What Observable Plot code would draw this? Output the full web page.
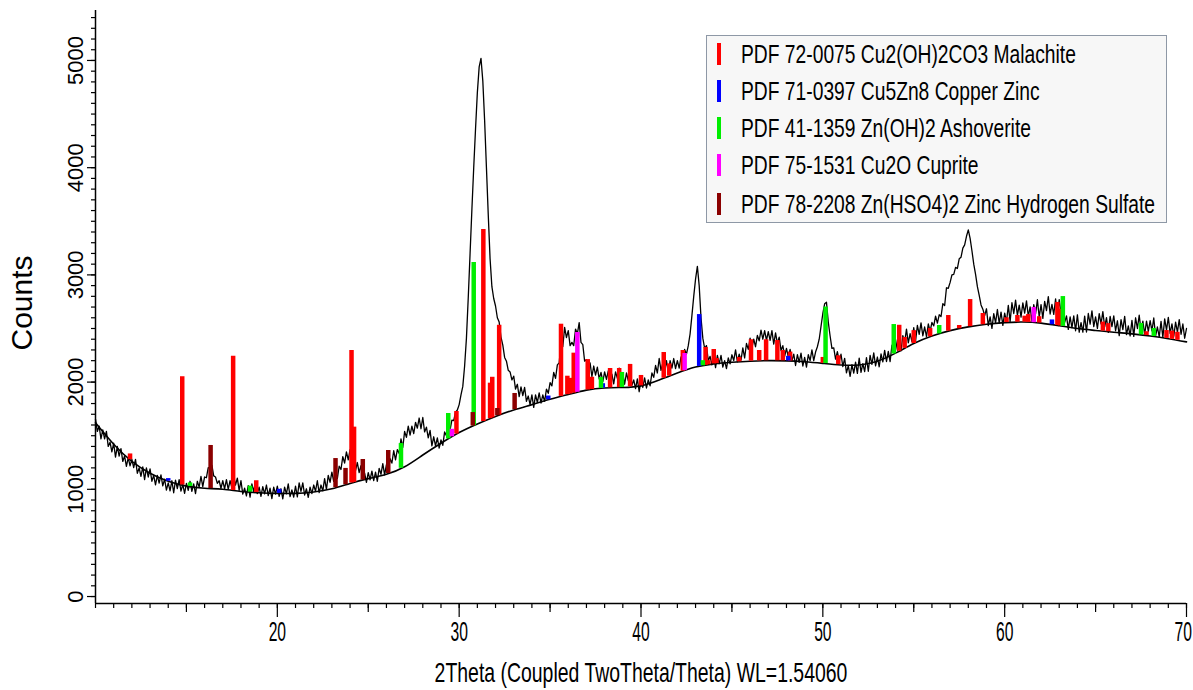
<!DOCTYPE html>
<html>
<head>
<meta charset="utf-8">
<script src="https://cdn.jsdelivr.net/npm/d3@7"></script>
<script src="https://cdn.jsdelivr.net/npm/@observablehq/plot@0.6"></script>
<style>
  body { margin: 0; background: #fff; }
  #wrap { position: relative; width: 1193px; height: 690px; overflow: hidden; }
  #legend { position: absolute; left: 706px; top: 35px; width: 461px; height: 188px; box-sizing: border-box;
            border: 1px solid #8e98a6; background: #f7f7f7; font-family: "Liberation Sans", Arial, sans-serif; }
  .lrow { position: absolute; left: 0; height: 30px; width: 100%; }
  .lbar { position: absolute; left: 10px; top: 4px; width: 4px; height: 22px; }
  .ltxt { position: absolute; left: 34px; top: 0; line-height: 30px; font-size: 25px; color: #000;
          white-space: nowrap; transform: scaleX(0.77); transform-origin: 0 50%; }
</style>
</head>
<body>
<div id="wrap"><div id="chart"></div><div id="legend"></div></div>
<script>
// ---- measured pattern: start angle, step (deg 2θ) and counts ----
const twoThetaStart = 10.0;
const twoThetaStep = 0.1;
const counts = [
  1655,1540,1590,1470,1555,1470,1540,1400,1440,1350,
  1430,1300,1400,1310,1380,1260,1310,1215,1295,1218,
  1280,1202,1280,1150,1200,1120,1210,1090,1200,1115,
  1190,1075,1130,1042,1130,1058,1135,1032,1095,993,
  1060,985,1080,968,1085,1007,1090,983,1045,962,
  1055,990,1075,980,1050,960,1075,1020,1120,1025,
  1115,1108,1202,1200,1225,1125,1115,1055,1080,1010,
  1080,1005,1090,1000,1080,1015,1125,1040,1105,990,
  1080,955,1010,938,1035,928,1050,980,1070,960,
  1020,935,1025,958,1040,942,1010,913,1020,955,
  1030,935,1005,910,1020,958,1050,932,995,928,
  1030,930,1060,980,1060,947,1005,925,1020,960,
  1040,982,1080,970,1040,985,1100,1000,1130,1065,
  1160,1075,1160,1100,1215,1185,1305,1245,1350,1275,
  1370,1265,1330,1175,1250,1155,1220,1100,1150,1065,
  1155,1088,1170,1082,1160,1075,1195,1140,1240,1135,
  1230,1155,1285,1245,1360,1275,1370,1335,1470,1390,
  1540,1485,1590,1505,1590,1520,1625,1570,1665,1565,
  1670,1535,1580,1480,1550,1405,1490,1405,1480,1385,
  1460,1410,1535,1500,1615,1555,1645,1640,1720,1740,
  1790,1880,1960,2150,2410,2790,3200,3610,4000,4360,
  4700,4940,5020,4810,4440,4000,3560,3150,2890,2780,
  2710,2600,2560,2420,2345,2230,2195,2110,2095,2020,
  2055,1935,1980,1865,1955,1875,1950,1820,1870,1790,
  1880,1765,1880,1810,1900,1805,1880,1820,1935,1895,
  1995,1965,2090,2035,2160,2180,2370,2330,2510,2415,
  2480,2340,2370,2340,2495,2450,2555,2370,2350,2195,
  2210,2110,2180,2050,2150,2065,2140,2030,2090,2005,
  2095,2025,2105,2008,2075,1983,2095,2035,2130,2005,
  2080,1980,2085,2015,2100,1970,2020,1940,2030,1910,
  2020,1950,2040,1945,2020,1965,2085,2045,2155,2085,
  2220,2110,2180,2105,2200,2085,2200,2130,2220,2125,
  2200,2130,2235,2195,2305,2260,2340,2450,2620,2800,
  2960,3080,2900,2600,2410,2315,2340,2200,2240,2160,
  2250,2135,2250,2170,2250,2140,2200,2125,2225,2170,
  2255,2200,2300,2190,2260,2205,2320,2225,2360,2305,
  2410,2320,2400,2330,2435,2385,2485,2400,2480,2390,
  2470,2390,2480,2355,2460,2360,2420,2295,2340,2240,
  2315,2235,2305,2200,2260,2155,2255,2185,2270,2150,
  2230,2140,2255,2200,2300,2200,2280,2330,2400,2520,
  2640,2730,2745,2560,2430,2315,2320,2215,2285,2195,
  2260,2145,2222,2086,2154,2053,2162,2084,2186,2082,
  2224,2090,2172,2098,2228,2101,2250,2165,2272,2151,
  2234,2143,2262,2189,2296,2192,2286,2192,2344,2286,
  2396,2297,2396,2292,2434,2371,2494,2365,2452,2378,
  2508,2381,2530,2445,2552,2431,2514,2423,2542,2474,
  2556,2524,2616,2550,2628,2612,2732,2714,2880,2875,
  2930,3000,3005,3070,3060,3150,3165,3250,3280,3360,
  3420,3340,3225,3100,3005,2890,2810,2720,2680,2620,
  2684,2527,2608,2501,2639,2553,2677,2549,2652,2529,
  2644,2561,2716,2567,2740,2640,2764,2622,2718,2606,
  2739,2643,2757,2614,2702,2569,2723,2637,2768,2605,
  2722,2594,2753,2667,2798,2635,2724,2631,2776,2612,
  2770,2640,2734,2557,2618,2491,2609,2508,2617,2479,
  2628,2465,2554,2466,2616,2467,2640,2540,2664,2517,
  2608,2501,2639,2543,2657,2514,2602,2464,2613,2517,
  2617,2479,2572,2434,2583,2490,2613,2442,2524,2431,
  2576,2427,2600,2500,2624,2477,2568,2446,2569,2473,
  2573,2477,2598,2430,2514,2421,2566,2417,2590,2485,
  2604,2455,2543,2428,2559,2466,2582,2446,2542,2409,
  2500
];

// ---- fitted background ----
const bgTheta  = [10,11,12,13,14,15,16,17,18,19,20,21,22,23,24,25,26,27,28,29,30,31,32,33,34,35,36,37,38,39,40,
                  41,42,43,44,45,46,47,48,49,50,51,52,53,54,55,56,57,58,59,60,61,62,63,64,65,66,67,68,69,70];
const bgCounts = [1620,1420,1260,1150,1075,1030,1010,1000,980,968,962,962,975,1005,1055,1100,1140,1210,1320,1430,1530,
                  1610,1680,1740,1790,1840,1885,1925,1945,1950,1965,2020,2085,2140,2170,2185,2195,2200,2198,2190,2175,
                  2160,2160,2195,2270,2360,2430,2480,2515,2540,2555,2560,2550,2525,2500,2482,2465,2450,2430,2405,2375];

// ---- reference phases (PDF sticks: [2θ, top count]) ----
const phaseNames = [
  "PDF 72-0075 Cu2(OH)2CO3 Malachite",
  "PDF 71-0397 Cu5Zn8 Copper Zinc",
  "PDF 41-1359 Zn(OH)2 Ashoverite",
  "PDF 75-1531 Cu2O Cuprite",
  "PDF 78-2208 Zn(HSO4)2 Zinc Hydrogen Sulfate"
];
const phaseColors = ["#ff0000", "#0000ff", "#00ee00", "#ff00ff", "#8b0000"];
const malachiteSticks = [[11.9,1330],[14.77,2050],[17.57,2240],[18.84,1080],[24.08,2295],[24.22,1580],[29.85,1726],
  [31.33,3423],[31.7,1990],[31.82,2045],[32.2,2530],[35.6,2540],[35.95,2055],[36.1,2035],[36.3,2270],[37.07,2210],
  [37.3,2045],[38.3,2127],[38.8,2127],[39.4,2165],[40.0,2062],[41.25,2276],[41.55,2170],[42.3,2295],[43.55,2323],
  [43.7,2200],[44.0,2304],[44.15,2220],[45.4,2230],[46.05,2395],[46.5,2295],[46.88,2395],[47.5,2388],[47.8,2295],
  [48.2,2280],[50.0,2230],[50.85,2245],[54.2,2530],[54.5,2416],[55.0,2480],[55.9,2500],[56.9,2621],[57.5,2528],
  [58.1,2770],[58.8,2640],[60.1,2600],[60.7,2621],[61.1,2615],[61.3,2630],[61.9,2610],[62.9,2743],[63.05,2680],
  [65.4,2560],[65.7,2545],[67.8,2470],[68.9,2481],[69.2,2475],[69.5,2465]];
const copperZincSticks = [[14.0,1100],[20.1,1000],[34.9,1870],[37.9,1985],[43.2,2630],[48.1,2240],[62.6,2580]];
const ashoveriteSticks = [[15.2,1060],[18.5,1030],[26.8,1427],[29.4,1707],[30.8,3116],[37.8,2043],[38.95,2090],
  [43.4,2200],[50.15,2700],[53.9,2537],[56.4,2528],[63.2,2798],[67.5,2547],[68.2,2500]];
const cupriteSticks = [[29.6,1560],[36.5,2463],[42.4,2267],[61.6,2696]];
const znSulfateSticks = [[16.33,1409],[23.2,1287],[23.75,1195],[24.7,1278],[26.1,1362],[30.75,1716],[32.1,1754],[33.05,1894]];
const phaseSticks = [malachiteSticks, copperZincSticks, ashoveriteSticks, cupriteSticks, znSulfateSticks];

// ---- axes ----
const xDomain = [10, 70];
const yDomain = [-65, 5466];
const xTickLabels = [20, 30, 40, 50, 60, 70];
const yTickLabels = [0, 1000, 2000, 3000, 4000, 5000];
const xTitle = "2Theta (Coupled TwoTheta/Theta) WL=1.54060";
const yTitle = "Counts";

// ---- build tables ----
const pattern = counts.map((c, i) => ({t: twoThetaStart + i * twoThetaStep, c}));
const background = bgTheta.map((t, i) => ({t, c: bgCounts[i]}));
function bgAt(t) {
  const j = Math.min(Math.max(d3.bisectRight(bgTheta, t), 1), bgTheta.length - 1);
  const t0 = bgTheta[j - 1], t1 = bgTheta[j];
  return bgCounts[j - 1] + (bgCounts[j] - bgCounts[j - 1]) * (t - t0) / (t1 - t0);
}
const sticks = phaseSticks.flatMap((arr, p) =>
  arr.map(([t, top]) => ({t, top, base: bgAt(t), color: phaseColors[p]})));

const minorX = d3.range(xDomain[0], xDomain[1] + 1, 1);
const midX = d3.range(15, xDomain[1] + 1, 10);
const minorY = d3.range(0, yDomain[1], 100);

const font = "'Liberation Sans', Arial, sans-serif";
const svg = Plot.plot({
  width: 1193, height: 690,
  marginLeft: 95, marginRight: 7, marginTop: 10, marginBottom: 87,
  x: {domain: xDomain, axis: null},
  y: {domain: yDomain, axis: null},
  style: {fontFamily: font, background: "white", color: "black", overflow: "visible"},
  marks: [
    Plot.line(pattern, {x: "t", y: "c", stroke: "black", strokeWidth: 1.3}),
    Plot.line(background, {x: "t", y: "c", curve: "natural", stroke: "black", strokeWidth: 1.6}),
    Plot.ruleX(sticks, {x: "t", y1: "base", y2: "top", stroke: "color", strokeWidth: 4.5}),
    Plot.ruleX(xDomain.slice(0, 1), {stroke: "black", strokeWidth: 1.5}),
    Plot.ruleY(yDomain.slice(0, 1), {stroke: "black", strokeWidth: 1.5}),
    Plot.axisX({ticks: minorX, tickSize: 5, fill: "none", label: null, strokeWidth: 1.2}),
    Plot.axisX({ticks: midX, tickSize: 9, fill: "none", label: null, strokeWidth: 1.2}),
    Plot.axisX({ticks: xTickLabels, tickSize: 14, fill: "none", label: null, strokeWidth: 1.2}),
    Plot.axisY({ticks: minorY, tickSize: 4, fill: "none", label: null, strokeWidth: 1.2}),
    Plot.axisY({ticks: yTickLabels, tickSize: 8, fill: "none", label: null, strokeWidth: 1.2}),
    Plot.text(xTickLabels, {x: d => d, frameAnchor: "bottom", dy: 29, text: d => String(d),
      fontSize: 27, lineAnchor: "middle", textAnchor: "middle"}),
    Plot.text(yTickLabels, {y: d => d, frameAnchor: "left", dx: -20, text: d => String(d), rotate: -90,
      fontSize: 22, lineAnchor: "middle", textAnchor: "middle"}),
    Plot.text([xTitle], {frameAnchor: "bottom", dy: 70, text: d => d, fontSize: 27,
      lineAnchor: "middle", textAnchor: "middle"}),
    Plot.text([yTitle], {frameAnchor: "left", dx: -73, dy: -4, text: d => d, fontSize: 30, rotate: -90,
      lineAnchor: "middle", textAnchor: "middle"})
  ]
});

// condense selected labels along their writing direction
const squeezeMap = new Map([[xTitle, 0.72], ...xTickLabels.map(d => [String(d), 0.58])]);
svg.querySelectorAll("text").forEach(t => {
  const sx = squeezeMap.get(t.textContent.trim());
  if (!sx) return;
  let tr = t.getAttribute("transform");
  if (!tr) {
    const x = parseFloat(t.getAttribute("x")) || 0;
    t.removeAttribute("x");
    tr = `translate(${x},0)`;
  }
  t.setAttribute("transform", tr + ` scale(${sx},1)`);
});
document.getElementById("chart").appendChild(svg);
// keep labels inside the picture
svg.querySelectorAll("text").forEach(t => {
  const r = t.getBoundingClientRect();
  const dx = r.right > 1192 ? 1192 - r.right : 0;
  const dy = r.bottom > 689 ? 689 - r.bottom : 0;
  if (dx || dy) t.setAttribute("transform", `translate(${dx},${dy}) ` + t.getAttribute("transform"));
});

// ---- legend ----
const legend = document.getElementById("legend");
const rowTops = [3, 40, 77, 114, 153];
phaseNames.forEach((name, i) => {
  const row = document.createElement("div");
  row.className = "lrow";
  row.style.top = rowTops[i] + "px";
  const bar = document.createElement("div");
  bar.className = "lbar";
  bar.style.background = phaseColors[i];
  const txt = document.createElement("div");
  txt.className = "ltxt";
  txt.textContent = name;
  row.appendChild(bar); row.appendChild(txt);
  legend.appendChild(row);
});
</script>
</body>
</html>
